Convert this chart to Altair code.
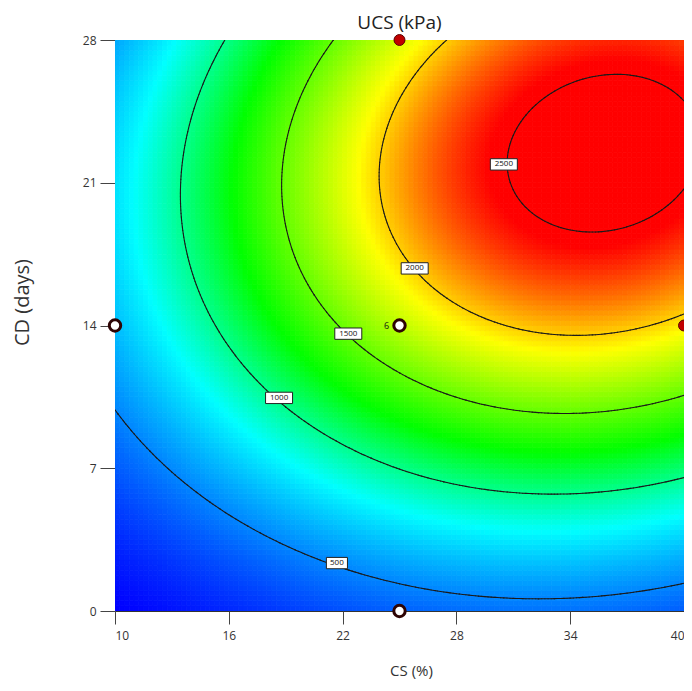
import numpy as np
import pandas as pd
import altair as alt

# ---- points read on the contour lines of the picture: CS (%), CD (days) per UCS level (kPa)
levels = [500, 1000, 1500, 2000, 2500]
c500_cs = [10.0, 19.1, 21.7, 25.4, 32.5, 40.0]
c500_cd = [9.86, 3.1, 2.35, 1.13, 0.64, 1.37]
c1000_cs = [15.8, 13.4, 17.0, 18.65, 20.5, 31.7, 40.0]
c1000_cd = [28.0, 20.2, 11.8, 10.45, 8.9, 5.7, 6.5]
c1500_cs = [21.5, 20.9, 22.3, 24.7, 33.0, 40.0]
c1500_cd = [28.0, 14.8, 13.6, 11.9, 9.76, 10.6]
c2000_cs = [27.5, 24.6, 25.8, 29.6, 34.0, 40.0]
c2000_cd = [28.0, 18.2, 16.8, 14.3, 13.6, 14.6]
c2500_cs = [30.5, 34.9, 36.2, 40.0, 40.0]
c2500_cd = [21.9, 18.5, 26.2, 25.0, 20.6]

# contour label anchors
label_cs = [21.7, 18.65, 22.3, 25.8, 30.5]
label_cd = [2.35, 10.45, 13.6, 16.8, 21.9]
label_txt = ["500", "1000", "1500", "2000", "2500"]

# design points
design_cs = [25, 40, 10, 25, 25]
design_cd = [28, 14, 14, 14, 0]
design_kind = ["above", "above", "below", "below", "below"]
replicate_cs = [25]
replicate_cd = [14]
replicate_txt = ["6"]

x_ticks = [10, 16, 22, 28, 34, 40]
y_ticks = [0, 7, 14, 21, 28]

# ---- fit a (log) cubic response surface to the read contour points
X = np.array(c500_cs + c1000_cs + c1500_cs + c2000_cs + c2500_cs, dtype=float)
Y = np.array(c500_cd + c1000_cd + c1500_cd + c2000_cd + c2500_cd, dtype=float)
Lv = np.array([500] * len(c500_cs) + [1000] * len(c1000_cs) + [1500] * len(c1500_cs)
              + [2000] * len(c2000_cs) + [2500] * len(c2500_cs), dtype=float)
# crossings on the frame were read most precisely: give them more weight
Wt = np.where((X <= 10) | (X >= 40) | (Y >= 28) | (Y <= 0), 3.0, 1.0)


def feats(x, y):
    u = (np.asarray(x, dtype=float) - 25) / 15
    w = (np.asarray(y, dtype=float) - 14) / 14
    return np.stack([np.ones_like(u), u, w, u * w, u ** 2, w ** 2,
                     u ** 3, u ** 2 * w, u * w ** 2, w ** 3], axis=-1)


coef, *_ = np.linalg.lstsq(feats(X, Y) * Wt[:, None], np.log(Lv) * Wt, rcond=None)


def model(x, y):
    return feats(x, y) @ coef


# heat-map cells
nx, ny = 120, 112
xe = np.linspace(10, 40, nx + 1)
ye = np.linspace(0, 28, ny + 1)
I, J = np.meshgrid(np.arange(nx), np.arange(ny))
I = I.ravel(); J = J.ravel()
xc = (xe[I] + xe[I + 1]) / 2
yc = (ye[J] + ye[J + 1]) / 2
vals = np.exp(model(xc, yc))
grid = pd.DataFrame({"x0": xe[I], "x1": xe[I + 1], "y0": ye[J], "y1": ye[J + 1], "v": np.round(vals, 1)})
vmin = float(vals.min())

# ---- contour segments (marching squares on a fine grid of the surface)
gx = np.linspace(10, 40, 181)
gy = np.linspace(0, 28, 169)
GX, GY = np.meshgrid(gx, gy)
F = model(GX, GY)
segs = []
for L in levels:
    lv = np.log(L)
    for j in range(len(gy) - 1):
        for i in range(len(gx) - 1):
            c = [(gx[i], gy[j], F[j, i]), (gx[i + 1], gy[j], F[j, i + 1]),
                 (gx[i + 1], gy[j + 1], F[j + 1, i + 1]), (gx[i], gy[j + 1], F[j + 1, i])]
            pts_ = []
            for a in range(4):
                p, q = c[a], c[(a + 1) % 4]
                if (p[2] - lv) * (q[2] - lv) < 0:
                    f = (lv - p[2]) / (q[2] - p[2])
                    pts_.append((p[0] + f * (q[0] - p[0]), p[1] + f * (q[1] - p[1])))
            for k in range(0, len(pts_) - 1, 2):
                segs.append({"x": pts_[k][0], "y": pts_[k][1], "x2": pts_[k + 1][0], "y2": pts_[k + 1][1]})
lines = pd.DataFrame(segs).round(4)

labels = pd.DataFrame({"x": label_cs, "y": label_cd, "t": label_txt,
                       "n": [str(len(s)) for s in label_txt]})
design = pd.DataFrame({"x": design_cs, "y": design_cd, "k": design_kind})
rep = pd.DataFrame({"x": replicate_cs, "y": replicate_cd, "t": replicate_txt})

FONT = "Open Sans"
xs = alt.Scale(domain=[10, 40], nice=False, zero=False)
ys = alt.Scale(domain=[0, 28], nice=False, zero=False)
cscale = alt.Scale(domain=[vmin, 800, 1250, 1900, 2450],
                   range=["#0000ff", "#00ffff", "#00ff00", "#ffff00", "#ff0000"],
                   interpolate="rgb", clamp=True)

xaxis = alt.Axis(values=x_ticks, title="CS (%)", grid=False, domain=False, tickSize=13,
                 tickColor="#444", labelColor="#333", labelFont=FONT, labelFontSize=12,
                 labelPadding=6, titleFont=FONT, titleFontSize=15, titleFontWeight="normal",
                 titleColor="#333", titlePadding=22, titleX=296)
yaxis = alt.Axis(values=y_ticks, title="CD (days)", grid=False, domain=False, tickSize=15,
                 tickColor="#444", labelColor="#333", labelFont=FONT, labelFontSize=12,
                 labelPadding=4, titleFont=FONT, titleFontSize=20, titleFontWeight="normal",
                 titleColor="#333", titlePadding=50, titleY=262)

heat = alt.Chart(grid).mark_rect(strokeWidth=0.8, clip=True).encode(
    x=alt.X("x0:Q", scale=xs, axis=xaxis),
    x2="x1:Q",
    y=alt.Y("y0:Q", scale=ys, axis=yaxis),
    y2="y1:Q",
    color=alt.Color("v:Q", scale=cscale, legend=None),
    stroke=alt.Stroke("v:Q", scale=cscale, legend=None),
)

cont = alt.Chart(lines).mark_rule(color="#1a1a1a", strokeWidth=1.1, strokeCap="round", clip=True).encode(
    x=alt.X("x:Q", scale=xs), y=alt.Y("y:Q", scale=ys), x2="x2:Q", y2="y2:Q")

box3 = "M-0.78,-0.42H0.78V0.42H-0.78Z"
box4 = "M-1,-0.42H1V0.42H-1Z"
boxes = alt.Chart(labels).mark_point(filled=True, fill="white", stroke="#222", strokeWidth=1,
                                     opacity=1, size=27 * 27).encode(
    x=alt.X("x:Q", scale=xs), y=alt.Y("y:Q", scale=ys),
    shape=alt.Shape("n:N", scale=alt.Scale(domain=["3", "4"], range=[box3, box4]), legend=None))
btext = alt.Chart(labels).mark_text(font=FONT, fontSize=8, color="#111").encode(
    x=alt.X("x:Q", scale=xs), y=alt.Y("y:Q", scale=ys), text="t:N")

pts = alt.Chart(design).mark_point(filled=True, opacity=1).encode(
    x=alt.X("x:Q", scale=xs), y=alt.Y("y:Q", scale=ys),
    fill=alt.Fill("k:N", scale=alt.Scale(domain=["above", "below"], range=["#c00000", "#ffffff"]), legend=None),
    stroke=alt.Stroke("k:N", scale=alt.Scale(domain=["above", "below"], range=["#5a0000", "#2e0404"]), legend=None),
    strokeWidth=alt.StrokeWidth("k:N", scale=alt.Scale(domain=["above", "below"], range=[1, 3]), legend=None),
    size=alt.Size("k:N", scale=alt.Scale(domain=["above", "below"], range=[120, 130]), legend=None),
)
reptext = alt.Chart(rep).mark_text(font=FONT, fontSize=9, color="#111", dx=-13, align="center").encode(
    x=alt.X("x:Q", scale=xs), y=alt.Y("y:Q", scale=ys), text="t:N")

chart = alt.layer(heat, cont, boxes, btext, pts, reptext).properties(
    width=569, height=571,
    title=alt.TitleParams("UCS (kPa)", font=FONT, fontSize=19, fontWeight="normal",
                          color="#222", offset=0, dy=0),
    autosize="none",
    padding={"left": 107, "top": 32, "right": 0, "bottom": 72},
).configure_view(stroke="#333", strokeWidth=1)

chart.save("out.html", embed_options={"renderer": "svg", "actions": False})
